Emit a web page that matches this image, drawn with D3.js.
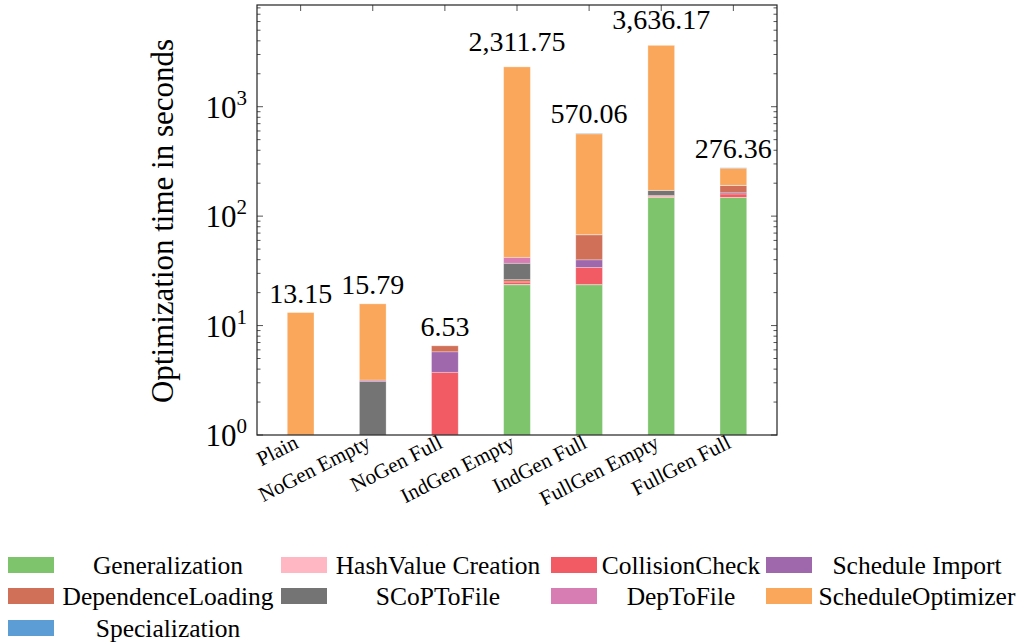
<!DOCTYPE html>
<html>
<head>
<meta charset="UTF-8">
<title>Optimization time</title>
<script src="https://cdn.jsdelivr.net/npm/d3@7"></script>
<style>
  body { margin: 0; background: #fff; }
  svg { display: block; }
  svg text { font-family: "Liberation Serif", serif; fill: #000; }
</style>
</head>
<body>
<svg id="chart" width="1021" height="643"></svg>
<script>
// categories and stacked series (seconds), bottom to top
const categories = ["Plain", "NoGen Empty", "NoGen Full", "IndGen Empty", "IndGen Full", "FullGen Empty", "FullGen Full"];
const seriesNames = ["Generalization", "HashValue Creation", "CollisionCheck", "Schedule Import",
  "DependenceLoading", "SCoPToFile", "DepToFile", "ScheduleOptimizer", "Specialization"];
const seriesColors = ["#7dc46c", "#ffb7c3", "#f25b63", "#9f67ac", "#d07058", "#747474", "#d77db3", "#fba75b", "#5d9dd5"];

const generalization    = [0,     0,     0,    23.6,    23.6,   148,     148];
const hashValue         = [0,     0,     0,    0.2,     0.1,    0.5,     0.5];
const collisionCheck    = [0,     0,     3.74, 1.2,     10.3,   3,       11];
const scheduleImport    = [0,     0,     2.02, 0.1,     5.9,    0.3,     4];
const dependenceLoading = [0,     0,     0.77, 1.2,     27.6,   3,       27];
const scopToFile        = [0,     3.1,   0,    10.8,    0.2,    17,      0.5];
const depToFile         = [0,     0.08,  0,    4.9,     0.1,    0.2,     0.3];
const scheduleOptimizer = [13.15, 12.61, 0,    2269.75, 497.26, 3464.17, 83.06];
const specialization    = [0,     0,     0,    0,       5,      0,       2];

const yTicks = [1, 10, 100, 1000];

const seriesValues = [generalization, hashValue, collisionCheck, scheduleImport,
  dependenceLoading, scopToFile, depToFile, scheduleOptimizer, specialization];

// table for d3.stack
const table = categories.map((c, i) => {
  const row = { cat: c };
  seriesNames.forEach((s, j) => row[s] = seriesValues[j][i]);
  return row;
});

const svg = d3.select("#chart");
const plot = { left: 257, right: 777, top: 5, bottom: 435 };

const x = d3.scaleBand()
  .domain(categories)
  .range([plot.left, plot.right])
  .paddingInner(0.63)
  .paddingOuter(0.42);

const y = d3.scaleLog()
  .domain([1, 8500])
  .range([plot.bottom, plot.top]);

const color = d3.scaleOrdinal().domain(seriesNames).range(seriesColors);

const stack = d3.stack().keys(seriesNames)(table);

// minor + major ticks on left and right
const minor = [];
for (let e = 0; e < 4; e++) {
  for (let k = 2; k <= 9; k++) {
    const v = k * Math.pow(10, e);
    if (v <= 8500) minor.push(v);
  }
}
const tickG = svg.append("g").attr("stroke", "#555").attr("stroke-width", 1);
minor.forEach(v => {
  tickG.append("line").attr("x1", plot.left).attr("x2", plot.left + 3.5).attr("y1", y(v)).attr("y2", y(v));
  tickG.append("line").attr("x1", plot.right).attr("x2", plot.right - 3.5).attr("y1", y(v)).attr("y2", y(v));
});
yTicks.forEach(v => {
  tickG.append("line").attr("x1", plot.left).attr("x2", plot.left + 6).attr("y1", y(v)).attr("y2", y(v));
  tickG.append("line").attr("x1", plot.right).attr("x2", plot.right - 6).attr("y1", y(v)).attr("y2", y(v));
});
categories.forEach(c => {
  const cx = x(c) + x.bandwidth() / 2;
  tickG.append("line").attr("x1", cx).attr("x2", cx).attr("y1", plot.top).attr("y2", plot.top + 6);
  tickG.append("line").attr("x1", cx).attr("x2", cx).attr("y1", plot.bottom).attr("y2", plot.bottom - 6);
});

// bars
svg.append("g")
  .selectAll("g")
  .data(stack)
  .join("g")
  .attr("fill", d => color(d.key))
  .selectAll("rect")
  .data(d => d.filter(p => p[1] - p[0] > 0))
  .join("rect")
  .attr("x", d => x(d.data.cat))
  .attr("width", x.bandwidth())
  .attr("y", d => y(Math.max(d[1], 1)))
  .attr("height", d => y(Math.max(d[0], 1)) - y(Math.max(d[1], 1)))
  .attr("stroke", "#fff")
  .attr("stroke-opacity", 0.35)
  .attr("stroke-width", 0.8);

// frame
svg.append("rect")
  .attr("x", plot.left).attr("y", plot.top)
  .attr("width", plot.right - plot.left).attr("height", plot.bottom - plot.top)
  .attr("fill", "none")
  .attr("stroke", "#222")
  .attr("stroke-width", 1.2);

// totals above bars
const fmt = d3.format(",.2f");
categories.forEach((c, i) => {
  const total = d3.sum(seriesValues, s => s[i]);
  const label = fmt(total);
  const off = label.includes(",") ? 16 : 10;
  svg.append("text")
    .attr("x", x(c) + x.bandwidth() / 2)
    .attr("y", y(total) - off)
    .attr("text-anchor", "middle")
    .attr("font-size", 28)
    .text(label);
});

// y tick labels
yTicks.forEach(v => {
  const t = svg.append("text")
    .attr("x", 247)
    .attr("y", y(v) + 11)
    .attr("text-anchor", "end")
    .attr("font-size", 31);
  t.append("tspan").text("10");
  t.append("tspan").attr("dy", -13).attr("font-size", 21).text(Math.round(Math.log10(v)));
});

// x tick labels
categories.forEach(c => {
  const cx = x(c) + x.bandwidth() / 2;
  svg.append("text")
    .attr("transform", `translate(${cx - 1},447) rotate(-27)`)
    .attr("text-anchor", "end")
    .attr("font-size", 21)
    .text(c);
});

// y axis title
svg.append("text")
  .attr("transform", "translate(173,221) rotate(-90)")
  .attr("text-anchor", "middle")
  .attr("font-size", 31)
  .text("Optimization time in seconds");

// legend, 4 columns
const colSquare = [8, 281, 551, 766];
const colText = [168, 438, 681, 917];
const rowTop = [557, 588, 620];
const legend = svg.append("g");
seriesNames.forEach((s, i) => {
  const col = i % 4, row = Math.floor(i / 4);
  legend.append("rect")
    .attr("x", colSquare[col]).attr("y", rowTop[row])
    .attr("width", 46).attr("height", 16)
    .attr("fill", color(s));
  legend.append("text")
    .attr("x", colText[col]).attr("y", rowTop[row] + 17)
    .attr("text-anchor", "middle")
    .attr("font-size", 25.5)
    .text(s);
});
</script>
</body>
</html>
